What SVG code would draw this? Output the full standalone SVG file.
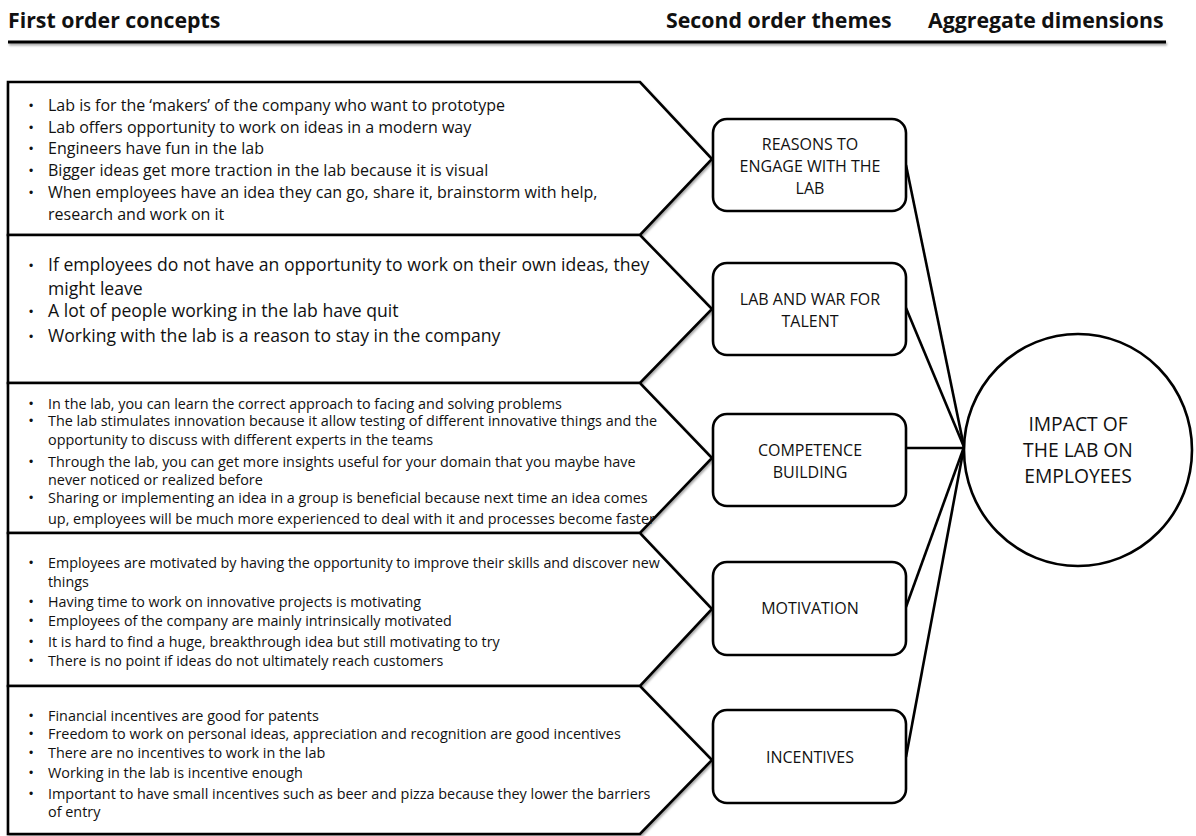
<svg xmlns="http://www.w3.org/2000/svg" width="1196" height="836" viewBox="0 0 1196 836">
  <style>
    .hdr { font-family: "Open Sans", "Liberation Sans", sans-serif; font-weight: bold; font-size: 21.3px; fill: #111; }
    .shape { fill: #fff; stroke: #000; stroke-width: 2.6; stroke-linejoin: miter; }
    .box { fill: #fff; stroke: #000; stroke-width: 2.6; }
    .conn { stroke: #000; stroke-width: 2.6; fill: none; }
    .b1 { font-family: "Open Sans", "Liberation Sans", sans-serif; font-size: 16px; fill: #111; }
    .b2 { font-family: "Open Sans", "Liberation Sans", sans-serif; font-size: 17.6px; fill: #111; }
    .b3 { font-family: "Open Sans", "Liberation Sans", sans-serif; font-size: 14.4px; fill: #111; }
    .b4 { font-family: "Open Sans", "Liberation Sans", sans-serif; font-size: 14.3px; fill: #111; }
    .b5 { font-family: "Open Sans", "Liberation Sans", sans-serif; font-size: 14.4px; fill: #111; }
    .dot { font-family: "Liberation Sans", sans-serif; font-size: 12px; fill: #111; }
    .lbl { font-family: "Open Sans", "Liberation Sans", sans-serif; font-size: 16px; fill: #111; text-anchor: middle; }
    .big { font-family: "Open Sans", "Liberation Sans", sans-serif; font-size: 19.3px; fill: #111; text-anchor: middle; }
  </style>
  <defs>
    <filter id="shadow" filterUnits="userSpaceOnUse" x="0" y="0" width="1196" height="836">
      <feDropShadow dx="1" dy="2" stdDeviation="1.2" flood-color="#000" flood-opacity="0.35"/>
    </filter>
  </defs>

  <rect width="1196" height="836" fill="#fff"/>

  <!-- column headings -->
  <g id="headings">
    <text class="hdr" x="8" y="28">First order concepts</text>
    <text class="hdr" x="666" y="28">Second order themes</text>
    <text class="hdr" x="928" y="28">Aggregate dimensions</text>
    <rect x="8" y="40.5" width="1158" height="3" fill="#000" filter="url(#shadow)"/>
  </g>

  <!-- first order concept panels -->
  <g id="concepts-reasons">
    <path class="shape" filter="url(#shadow)" d="M8,82 H640 L712,159 L640,235 H8 Z"/>
    <g class="b1">
      <text class="dot" x="29" y="110">•</text><text x="48" y="111">Lab is for the ‘makers’ of the company who want to prototype</text>
      <text class="dot" x="29" y="132">•</text><text x="48" y="133">Lab offers opportunity to work on ideas in a modern way</text>
      <text class="dot" x="29" y="153">•</text><text x="48" y="154">Engineers have fun in the lab</text>
      <text class="dot" x="29" y="175">•</text><text x="48" y="176">Bigger ideas get more traction in the lab because it is visual</text>
      <text class="dot" x="29" y="197">•</text><text x="48" y="198">When employees have an idea they can go, share it, brainstorm with help,</text>
      <text x="48" y="220">research and work on it</text>
    </g>
  </g>

  <g id="concepts-talent">
    <path class="shape" filter="url(#shadow)" d="M8,235 H640 L712,309 L640,383 H8 Z"/>
    <g class="b2">
      <text class="dot" x="29" y="270">•</text><text x="48" y="271">If employees do not have an opportunity to work on their own ideas, they</text>
      <text x="48" y="295">might leave</text>
      <text class="dot" x="29" y="316">•</text><text x="48" y="317">A lot of people working in the lab have quit</text>
      <text class="dot" x="29" y="341">•</text><text x="48" y="342">Working with the lab is a reason to stay in the company</text>
    </g>
  </g>

  <g id="concepts-competence">
    <path class="shape" filter="url(#shadow)" d="M8,383 H640 L712,458 L640,533 H8 Z"/>
    <g class="b3">
      <text class="dot" x="29" y="408">•</text><text x="48" y="409">In the lab, you can learn the correct approach to facing and solving problems</text>
      <text class="dot" x="29" y="425">•</text><text x="48" y="426">The lab stimulates innovation because it allow testing of different innovative things and the</text>
      <text x="48" y="445">opportunity to discuss with different experts in the teams</text>
      <text class="dot" x="29" y="466">•</text><text x="48" y="467">Through the lab, you can get more insights useful for your domain that you maybe have</text>
      <text x="48" y="485">never noticed or realized before</text>
      <text class="dot" x="29" y="502">•</text><text x="48" y="503">Sharing or implementing an idea in a group is beneficial because next time an idea comes</text>
      <text x="48" y="524">up, employees will be much more experienced to deal with it and processes become faster</text>
    </g>
  </g>

  <g id="concepts-motivation">
    <path class="shape" filter="url(#shadow)" d="M8,533 H640 L712,609 L640,686 H8 Z"/>
    <g class="b4">
      <text class="dot" x="29" y="567">•</text><text x="48" y="568">Employees are motivated by having the opportunity to improve their skills and discover new</text>
      <text x="48" y="587">things</text>
      <text class="dot" x="29" y="606">•</text><text x="48" y="607">Having time to work on innovative projects is motivating</text>
      <text class="dot" x="29" y="625">•</text><text x="48" y="626">Employees of the company are mainly intrinsically motivated</text>
      <text class="dot" x="29" y="646">•</text><text x="48" y="647">It is hard to find a huge, breakthrough idea but still motivating to try</text>
      <text class="dot" x="29" y="665">•</text><text x="48" y="666">There is no point if ideas do not ultimately reach customers</text>
    </g>
  </g>

  <g id="concepts-incentives">
    <path class="shape" filter="url(#shadow)" d="M8,686 H640 L712,760 L640,834 H8 Z"/>
    <g class="b5">
      <text class="dot" x="29" y="720">•</text><text x="48" y="721">Financial incentives are good for patents</text>
      <text class="dot" x="29" y="738">•</text><text x="48" y="739">Freedom to work on personal ideas, appreciation and recognition are good incentives</text>
      <text class="dot" x="29" y="757">•</text><text x="48" y="758">There are no incentives to work in the lab</text>
      <text class="dot" x="29" y="777">•</text><text x="48" y="778">Working in the lab is incentive enough</text>
      <text class="dot" x="29" y="798">•</text><text x="48" y="799">Important to have small incentives such as beer and pizza because they lower the barriers</text>
      <text x="48" y="817">of entry</text>
    </g>
  </g>

  <!-- links from themes to the aggregate dimension -->
  <g id="connectors">
    <line class="conn" x1="906" y1="165" x2="964" y2="447"/>
    <line class="conn" x1="906" y1="308" x2="964" y2="447"/>
    <line class="conn" x1="906" y1="448" x2="964" y2="448"/>
    <line class="conn" x1="906" y1="607" x2="964" y2="447"/>
    <line class="conn" x1="906" y1="757" x2="964" y2="447"/>
  </g>

  <!-- second order themes -->
  <g id="theme-reasons">
    <rect class="box" x="713" y="119" width="193" height="92" rx="14"/>
    <text class="lbl" x="810" y="150">REASONS TO</text>
    <text class="lbl" x="810" y="172">ENGAGE WITH THE</text>
    <text class="lbl" x="810" y="194">LAB</text>
  </g>
  <g id="theme-talent">
    <rect class="box" x="713" y="263" width="193" height="92" rx="14"/>
    <text class="lbl" x="810" y="305">LAB AND WAR FOR</text>
    <text class="lbl" x="810" y="327">TALENT</text>
  </g>
  <g id="theme-competence">
    <rect class="box" x="713" y="414" width="193" height="92" rx="14"/>
    <text class="lbl" x="810" y="456">COMPETENCE</text>
    <text class="lbl" x="810" y="478">BUILDING</text>
  </g>
  <g id="theme-motivation">
    <rect class="box" x="713" y="562" width="193" height="93" rx="14"/>
    <text class="lbl" x="810" y="614">MOTIVATION</text>
  </g>
  <g id="theme-incentives">
    <rect class="box" x="713" y="710" width="193" height="93" rx="14"/>
    <text class="lbl" x="810" y="763">INCENTIVES</text>
  </g>

  <!-- aggregate dimension -->
  <g id="dimension-impact">
    <ellipse cx="1078" cy="450" rx="114" ry="116" fill="#fff" stroke="#000" stroke-width="2.6"/>
    <text class="big" x="1078" y="431">IMPACT OF</text>
    <text class="big" x="1078" y="457">THE LAB ON</text>
    <text class="big" x="1078" y="483">EMPLOYEES</text>
  </g>
</svg>
